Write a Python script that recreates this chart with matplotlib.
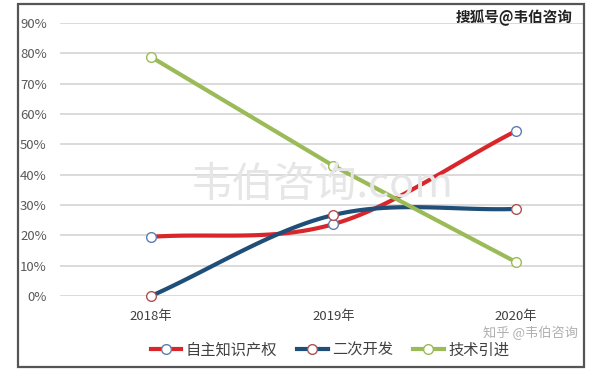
import matplotlib
matplotlib.use("Agg")
import matplotlib.pyplot as plt
from matplotlib.lines import Line2D
from matplotlib.patches import Rectangle
import numpy as np

plt.rcParams['font.family'] = ['Noto Sans CJK SC', 'DejaVu Sans']

years = ["2018年", "2019年", "2020年"]
own_ip = [0.195, 0.237, 0.544]      # 自主知识产权
secondary = [0.0, 0.267, 0.287]     # 二次开发
tech_import = [0.788, 0.429, 0.112] # 技术引进
y_ticks = [0, 0.1, 0.2, 0.3, 0.4, 0.5, 0.6, 0.7, 0.8, 0.9]

W, H = 601, 383


def smooth(xs, ys, n=60):
    # Catmull-Rom style curve through the points (like Excel smoothed lines)
    xs = np.asarray(xs, float)
    ys = np.asarray(ys, float)
    px = np.concatenate([[2 * xs[0] - xs[1]], xs, [2 * xs[-1] - xs[-2]]])
    py = np.concatenate([[2 * ys[0] - ys[1]], ys, [2 * ys[-1] - ys[-2]]])
    out_x, out_y = [], []
    for i in range(1, len(px) - 2):
        t = np.linspace(0, 1, n)
        for arr, out in ((px, out_x), (py, out_y)):
            p0, p1, p2, p3 = arr[i - 1], arr[i], arr[i + 1], arr[i + 2]
            m1 = (p2 - p0) / 2
            m2 = (p3 - p1) / 2
            h00 = 2 * t**3 - 3 * t**2 + 1
            h10 = t**3 - 2 * t**2 + t
            h01 = -2 * t**3 + 3 * t**2
            h11 = t**3 - t**2
            out.extend(h00 * p1 + h10 * m1 + h01 * p2 + h11 * m2)
    return np.array(out_x), np.array(out_y)


fig = plt.figure(figsize=(W / 100, H / 100), dpi=100)
fig.patch.set_facecolor("white")

left, right, top, bottom = 60, 584, 23, 296
ax = fig.add_axes([left / W, 1 - bottom / H, (right - left) / W, (bottom - top) / H])
ax.set_xlim(-0.499, 2.373)
ax.set_ylim(0, 0.9)
for s in ax.spines.values():
    s.set_visible(False)
ax.set_yticks(y_ticks)
ax.set_yticklabels([f"{int(round(v * 100))}%" for v in y_ticks])
ax.grid(axis="y", color="#d4d4d4", linewidth=1.2)
ax.set_axisbelow(True)
ax.tick_params(axis="y", length=0, labelsize=9.5, labelcolor="#595959", pad=9.5)
x = np.arange(len(years))
ax.set_xticks(x)
ax.set_xticklabels(years, fontsize=9.5, color="#404040")
ax.tick_params(axis="x", length=0, pad=10)

red, blue, green = "#d9262b", "#1f4e79", "#9bbb59"
mk = dict(marker="o", markersize=7, markerfacecolor="white", linestyle="none", zorder=5)

sx, sy = smooth(x, own_ip)
ax.plot(sx, sy, color=red, linewidth=3, zorder=3, clip_on=False)
sx, sy = smooth(x, secondary)
ax.plot(sx, sy, color=blue, linewidth=3, zorder=3, clip_on=False)
ax.plot(x, tech_import, color=green, linewidth=3, zorder=3, clip_on=False)

ax.plot(x, own_ip, markeredgecolor="#5b7fb0", clip_on=False, **mk)
ax.plot(x, secondary, markeredgecolor="#b05050", clip_on=False, **mk)
ax.plot(x, tech_import, markeredgecolor="#9bbb59", clip_on=False, **mk)

handles = [
    Line2D([], [], color=red, lw=3, marker="o", ms=7, mfc="white", mec="#5b7fb0"),
    Line2D([], [], color=blue, lw=3, marker="o", ms=7, mfc="white", mec="#b05050"),
    Line2D([], [], color=green, lw=3, marker="o", ms=7, mfc="white", mec="#9bbb59"),
]
fig.legend(handles, ["自主知识产权", "二次开发", "技术引进"], loc="center",
           bbox_to_anchor=(330 / W, 1 - 350 / H), ncol=3, frameon=False,
           fontsize=11, handlelength=2.0, handletextpad=0.3, columnspacing=1.3,
           labelcolor="#404040")

# watermarks
fig.text(0.5 * (left + right) / W, 1 - 185 / H, "韦伯咨询.com", fontsize=30,
         color="#e6e6e6", ha="center", va="center", zorder=0)
fig.text(573 / W, 1 - 18 / H, "搜狐号@韦伯咨询", fontsize=10.5, fontweight="bold",
         color="#222222", ha="right", va="center")
fig.text(578 / W, 1 - 333 / H, "知乎 @韦伯咨询", fontsize=9.5,
         color="#b0b0b0", ha="right", va="center")

fig.patches.append(Rectangle((18 / W, 1 - 367 / H), (584 - 18) / W, (367 - 4) / H,
                             transform=fig.transFigure, fill=False,
                             edgecolor="#555555", linewidth=1.6))

fig.savefig("out.png", dpi=100, facecolor="white")
